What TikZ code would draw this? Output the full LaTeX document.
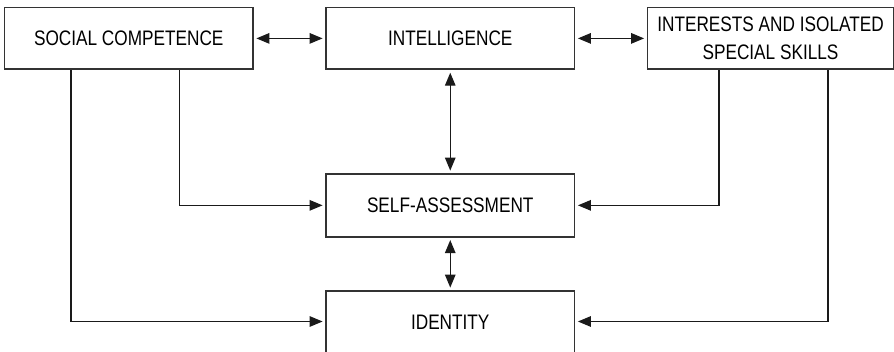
\documentclass[tikz,border=0pt]{standalone}
\usepackage{fontspec}
\setmainfont{Liberation Sans}[FakeStretch=0.82]
\usetikzlibrary{arrows.meta}
\definecolor{boxline}{HTML}{333333}
\definecolor{connline}{HTML}{1A1A1A}
\tikzset{
  box/.style={draw=boxline, line width=1.8pt, rectangle, align=center,
    inner sep=0pt, minimum width=248.5pt, minimum height=61.8pt,
    font=\fontsize{21}{28.3}\selectfont},
  conn/.style={draw=connline, line width=1.3pt},
  tip/.style={-{Triangle[length=13pt,width=10.5pt]}, shorten >=2.5pt},
  both/.style={{Triangle[length=13pt,width=10.5pt]}-{Triangle[length=13pt,width=10.5pt]},
    shorten >=2.5pt, shorten <=2.5pt}
}
\begin{document}
\begin{tikzpicture}[x=1pt,y=-1pt]
\useasboundingbox (0,0) rectangle (894,352);
\node[box] (b1) at (128.75,38.4) {SOCIAL COMPETENCE};
\node[box] (b2) at (450.25,38.4) {INTELLIGENCE};
\node[box, minimum width=246pt] (b3) at (770.5,38.4) {INTERESTS AND ISOLATED\\SPECIAL SKILLS};
\node[box, minimum height=62.7pt] (self) at (450.25,205.35) {SELF-ASSESSMENT};
\node[box, minimum height=63pt] (iden) at (450.25,322.5) {IDENTITY};

\draw[conn,both] (b1.east) -- (b2.west);
\draw[conn,both] (b2.east) -- (b3.west);
\draw[conn,both] (b2.south) -- (self.north);
\draw[conn,both] (self.south) -- (iden.north);

\draw[conn,tip] ([xshift=67.5pt]b1.south west) |- ([yshift=1pt]iden.west);
\draw[conn,tip] ([xshift=176pt]b1.south west) |- (self.west);
\draw[conn,tip] ([xshift=72.5pt]b3.south west) |- (self.east);
\draw[conn,tip] ([xshift=181.5pt]b3.south west) |- ([yshift=1pt]iden.east);
\end{tikzpicture}
\end{document}
